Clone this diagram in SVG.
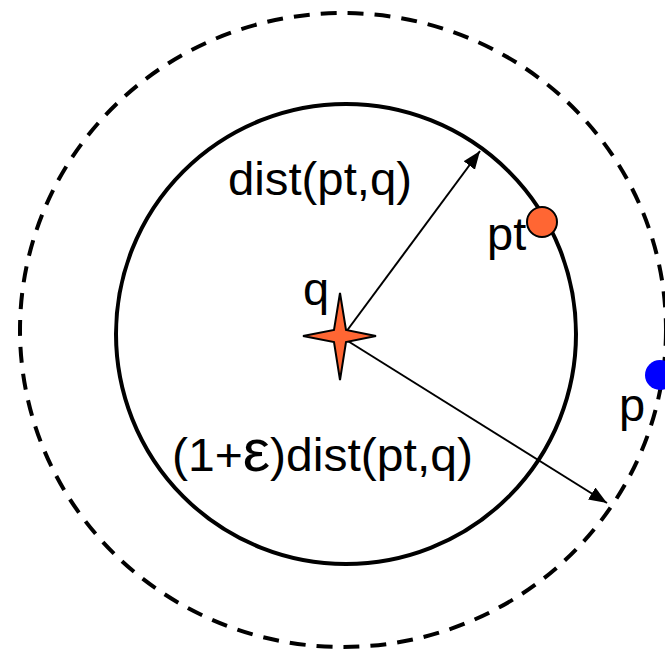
<svg xmlns="http://www.w3.org/2000/svg" width="665" height="657" viewBox="0 0 665 657">
<style>
.lbl{font-family:"Liberation Sans",Arial,sans-serif;font-size:47px;fill:#000}
.conn{stroke:#000;stroke-width:2;fill:none}
</style>
<defs>
<marker id="ah" markerUnits="userSpaceOnUse" markerWidth="20" markerHeight="16" refX="18" refY="7" orient="auto">
<path d="M0,0 L18,7 L0,14 Z" fill="#000"/>
</marker>
</defs>
<rect width="665" height="657" fill="#fff"/>
<g id="outer-circle">
<ellipse cx="343" cy="330" rx="323" ry="317" fill="none" stroke="#000" stroke-width="4" stroke-dasharray="16 11"/>
</g>
<g id="inner-circle">
<circle cx="346" cy="334" r="230" fill="none" stroke="#000" stroke-width="4"/>
</g>
<g id="connectors">
<line class="conn" x1="343" y1="336" x2="480" y2="151" marker-end="url(#ah)"/>
<line class="conn" x1="343" y1="338" x2="607" y2="503" marker-end="url(#ah)"/>
</g>
<g id="q">
<path d="M340,293 L346,330 L376,336 L346,342 L340,380 L334,342 L303,336 L334,330 Z" fill="#FF6633" stroke="#000" stroke-width="2" stroke-linejoin="miter"/>
<text class="lbl" x="303" y="305">q</text>
</g>
<g id="pt">
<circle cx="542" cy="222" r="15" fill="#FF6633" stroke="#000" stroke-width="2"/>
<text class="lbl" x="487" y="250">pt</text>
</g>
<g id="p">
<circle cx="660" cy="375" r="15" fill="#0000FF"/>
<text class="lbl" x="619" y="421">p</text>
</g>
<g id="labels">
<text class="lbl" x="228" y="195" textLength="184" lengthAdjust="spacingAndGlyphs">dist(pt,q)</text>
<text class="lbl" x="172" y="471" textLength="301" lengthAdjust="spacingAndGlyphs">(1+<tspan font-size="60">ε</tspan>)dist(pt,q)</text>
</g>
</svg>
